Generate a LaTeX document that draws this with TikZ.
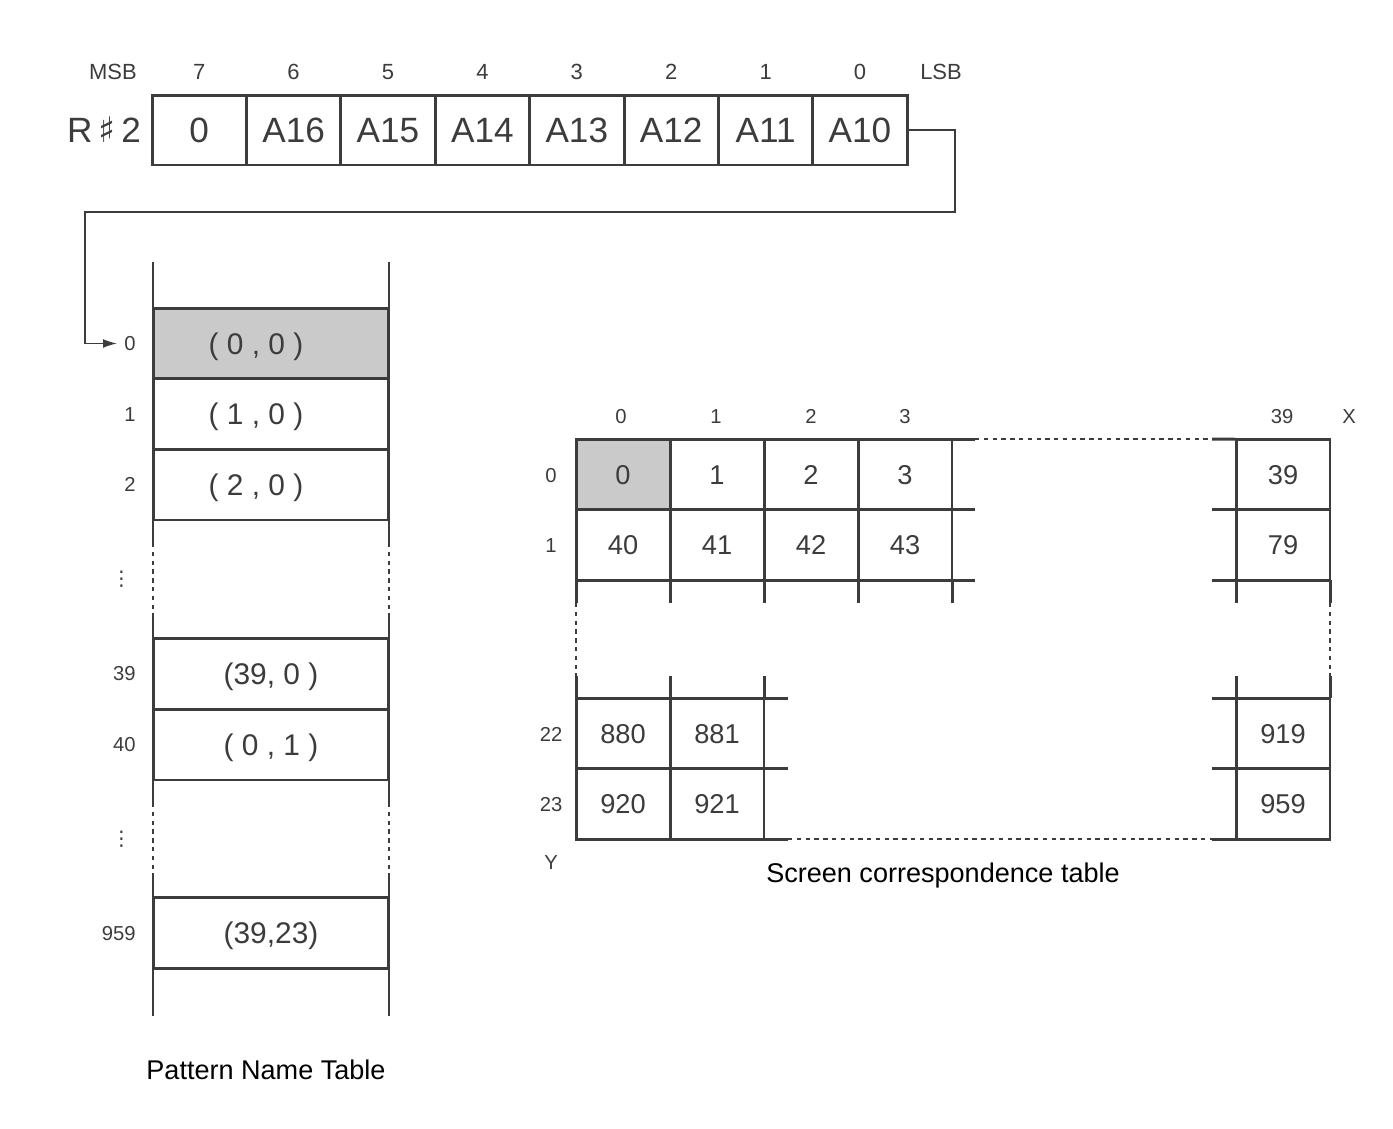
\documentclass[tikz,border=0pt]{standalone}
\usepackage{fontspec}
\setmainfont{Liberation Sans}
\newfontfamily\symfont{DejaVu Sans}
\usepackage{xcolor}
\usetikzlibrary{calc, arrows.meta}
\definecolor{ink}{HTML}{3C3C3C}
\definecolor{shade}{HTML}{CACACA}

\begin{document}
\begin{tikzpicture}[x=0.02cm, y=-0.02cm, line width=1.7pt, color=ink,
    bitcell/.style={draw, inner sep=0, outer sep=0, minimum width=1.888cm, minimum height=1.4cm, text height=14.3pt, text depth=0pt, font=\fontsize{20}{24}\selectfont},
    bitlbl/.style={text height=9pt, text depth=0pt, font=\fontsize{12.5}{15}\selectfont},
    pntrow/.style={draw, inner sep=0, outer sep=0, minimum width=4.72cm, minimum height=1.42cm, text height=12.2pt, text depth=0pt, font=\fontsize{17}{20}\selectfont},
    idxlbl/.style={anchor=east, text height=8.2pt, text depth=0pt, font=\fontsize{11.5}{14}\selectfont},
    scrcell/.style={draw, inner sep=0, outer sep=0, minimum width=1.88cm, minimum height=1.41cm, text height=11.1pt, text depth=0pt, font=\fontsize{15.5}{18}\selectfont},
    scrlbl/.style={text height=8.2pt, text depth=0pt, font=\fontsize{11.5}{14}\selectfont},
    caption/.style={text=black, font=\fontsize{15.4}{18}\selectfont},
    gap/.style={line width=1pt, dash pattern=on 2.5pt off 2.5pt},
    shaded/.style={fill=shade} ]
    \useasboundingbox (0,0) rectangle (1393,1129);

    % register R#2
    \node at (113,72) [bitlbl] (msb) {MSB};
    \node at (941,72) [bitlbl] (lsb) {LSB};
    \node at (199.2,72) [bitlbl] (n7) {7};
    \node at (293.6,72) [bitlbl] (n6) {6};
    \node at (388,72) [bitlbl] (n5) {5};
    \node at (482.4,72) [bitlbl] (n4) {4};
    \node at (576.8,72) [bitlbl] (n3) {3};
    \node at (671.2,72) [bitlbl] (n2) {2};
    \node at (765.6,72) [bitlbl] (n1) {1};
    \node at (860,72) [bitlbl] (n0) {0};
    \node at (104,130) [text height=14.3pt, text depth=0pt, font=\fontsize{20}{24}\selectfont] (reg) {R\,{\symfont ♯}\,2};
    \node at (199.2,130) [bitcell] (b7) {0};
    \node at (293.6,130) [bitcell] (b6) {A16};
    \node at (388,130) [bitcell] (b5) {A15};
    \node at (482.4,130) [bitcell] (b4) {A14};
    \node at (576.8,130) [bitcell] (b3) {A13};
    \node at (671.2,130) [bitcell] (b2) {A12};
    \node at (765.6,130) [bitcell] (b1) {A11};
    \node at (860,130) [bitcell] (b0) {A10};

    % pattern name table
    \foreach \x in {153,389} {
      \draw (\x,262) -- (\x,543);
      \draw [gap] (\x,543) -- (\x,615);
      \draw (\x,615) -- (\x,803);
      \draw [gap] (\x,803) -- (\x,873);
      \draw (\x,873) -- (\x,1016);
    }
    \node at (271,343.5) [pntrow,shaded] (p0) {( 0 , 0 )\hspace*{0.6cm}\null};
    \node at (271,414) [pntrow] (p1) {( 1 , 0 )\hspace*{0.6cm}\null};
    \node at (271,484.5) [pntrow] (p2) {( 2 , 0 )\hspace*{0.6cm}\null};
    \node at (271,673.5) [pntrow] (p39) {(39, 0 )};
    \node at (271,744.5) [pntrow] (p40) {( 0 , 1 )};
    \node at (271,933) [pntrow] (p959) {(39,23)};
    \node at (143,343.5) [idxlbl] (i0) {0};
    \node at (143,414) [idxlbl] (i1) {1};
    \node at (143,484.5) [idxlbl] (i2) {2};
    \node at (139,578) [idxlbl] (id1) {\symfont ⋮};
    \node at (143,673.5) [idxlbl] (i39) {39};
    \node at (143,744.5) [idxlbl] (i40) {40};
    \node at (139,838) [idxlbl] (id2) {\symfont ⋮};
    \node at (143,933) [idxlbl] (i959) {959};
    \draw [line width=0.9pt, -{Latex[length=8pt,width=5pt]}] (b0.east) -- (955,130) -- (955,212) -- (85,212) |- (i0.west);

    % screen correspondence table
    \node at (623,474.5) [scrcell,shaded] (s0) {0};
    \node at (717,474.5) [scrcell] (s1) {1};
    \node at (811,474.5) [scrcell] (s2) {2};
    \node at (905,474.5) [scrcell] (s3) {3};
    \node at (1283,474.5) [scrcell] (s39) {39};
    \node at (623,545) [scrcell] (s40) {40};
    \node at (717,545) [scrcell] (s41) {41};
    \node at (811,545) [scrcell] (s42) {42};
    \node at (905,545) [scrcell] (s43) {43};
    \node at (1283,545) [scrcell] (s79) {79};
    \node at (623,733.5) [scrcell] (s880) {880};
    \node at (717,733.5) [scrcell] (s881) {881};
    \node at (1283,733.5) [scrcell] (s919) {919};
    \node at (623,804) [scrcell] (s920) {920};
    \node at (717,804) [scrcell] (s921) {921};
    \node at (1283,804) [scrcell] (s959) {959};
    \draw (s3.north east) -- ++(23,0);
    \draw [gap] (975,439) -- (1212,439);
    \draw (1212,439) -- (s39.north west);
    \draw (s43.north east) -- ++(23,0);
    \draw (s43.south east) -- ++(23,0);
    \draw (s39.south west) -- ++(-24,0);
    \draw (s79.south west) -- ++(-24,0);
    \foreach \x in {576,670,764,858,952,1236,1330}
      \draw (\x,580) -- (\x,603);
    \draw [gap] (576,603) -- (576,676);
    \draw [gap] (1330,603) -- (1330,676);
    \foreach \x in {576,670,764,1236,1330}
      \draw (\x,676) -- (\x,698);
    \draw (s881.north east) -- ++(24,0);
    \draw (s921.north east) -- ++(24,0);
    \draw (s921.south east) -- ++(24,0);
    \draw [gap] (788,839) -- (1212,839);
    \draw (s919.north west) -- ++(-24,0);
    \draw (s959.north west) -- ++(-24,0);
    \draw (s959.south west) -- ++(-24,0);
    \node at (621,416) [scrlbl] (x0) {0};
    \node at (716,416) [scrlbl] (x1) {1};
    \node at (811,416) [scrlbl] (x2) {2};
    \node at (905,416) [scrlbl] (x3) {3};
    \node at (1282,416) [scrlbl] (x39) {39};
    \node at (1349,416) [scrlbl] (xx) {X};
    \node at (551,475) [scrlbl] (y0) {0};
    \node at (551,545) [scrlbl] (y1) {1};
    \node at (551,734) [scrlbl] (y22) {22};
    \node at (551,804) [scrlbl] (y23) {23};
    \node at (551,862) [scrlbl] (yy) {Y};

    \node at (266,1070) [caption] (pnt) {Pattern Name Table};
    \node at (943,875) [caption] (sct) {Screen correspondence table};
\end{tikzpicture}
\end{document}
